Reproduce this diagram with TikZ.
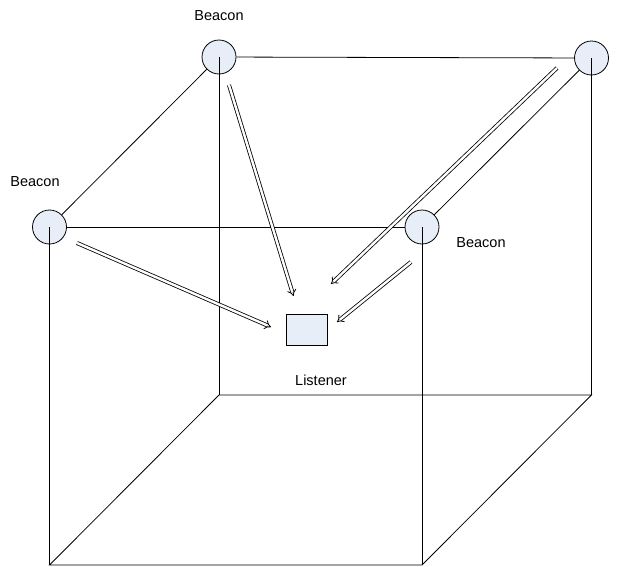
\documentclass[tikz,border=0pt]{standalone}
\usepackage{fontspec}
\setmainfont{Liberation Sans}
\usetikzlibrary{arrows.meta}
\definecolor{nodefill}{RGB}{232,238,248}
\begin{document}
\begin{tikzpicture}[x=1pt,y=-1pt,
  edge/.style={draw=black,line width=0.8pt},
  beacon/.style={circle,draw=black,line width=0.8pt,fill=nodefill,minimum size=34pt,inner sep=0pt},
  receiver/.style={rectangle,draw=black,line width=0.8pt,fill=nodefill,minimum width=41pt,minimum height=31pt,inner sep=0pt},
  signal/.style={draw=black,line width=0.8pt,double=white,double distance=2.4pt,-{Implies}},
  caption/.style={font=\fontsize{14.5}{17}\selectfont,inner sep=0pt}]
\useasboundingbox (0,0) rectangle (618,566);

% beacons on the top corners of the cube
\node[beacon] (bl) at (49.5,227) {};
\node[beacon] (bb) at (219,57) {};
\node[beacon] (br) at (591.5,58) {};
\node[beacon] (bf) at (422,227) {};

% bottom corners of the cube
\coordinate (fl) at (49.5,565);
\coordinate (fr) at (422,565);
\coordinate (kl) at (219,395);
\coordinate (kr) at (591.5,395);

% edges between beacons
\draw[edge] (bl) -- (bf);
\draw[edge] (bb) -- (br);
\draw[edge] (bl) -- (bb);
\draw[edge] (bf) -- (br);

% vertical edges from the beacon centres
\draw[edge] (bl.center) -- (fl);
\draw[edge] (bf.center) -- (fr);
\draw[edge] (bb.center) -- (kl);
\draw[edge] (br.center) -- (kr);

% bottom face
\draw[edge] (fl) -- (fr) -- (kr) -- (kl) -- cycle;

% listener
\node[receiver] (ls) at (307,330) {};

% signals towards the listener
\coordinate (s1) at (229,85);   \coordinate (e1) at (293.5,296);
\coordinate (s2) at (557,68);   \coordinate (e2) at (331,284);
\coordinate (s3) at (77,243);   \coordinate (e3) at (271,327);
\coordinate (s4) at (411,262);  \coordinate (e4) at (337,322);
\draw[signal] (s1) -- (e1);
\draw[signal] (s2) -- (e2);
\draw[signal] (s3) -- (e3);
\draw[signal] (s4) -- (e4);

% labels
\node[caption] (t1) at (219,16) {Beacon};
\node[caption] (t2) at (35,182) {Beacon};
\node[caption] (t3) at (481,243) {Beacon};
\node[caption] (t4) at (321,380) {Listener};
\end{tikzpicture}
\end{document}
